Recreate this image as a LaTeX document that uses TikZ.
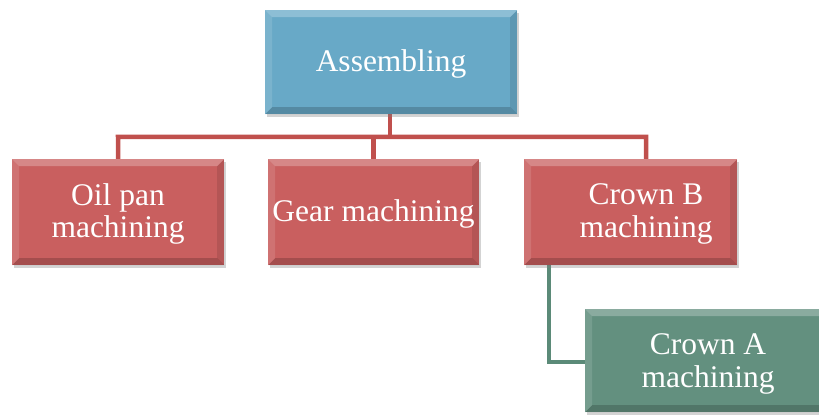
\documentclass[tikz,border=0pt]{standalone}
\usepackage{fontspec}
\setmainfont{Liberation Serif}
\usetikzlibrary{shadows,backgrounds}
\definecolor{bluefill}{HTML}{68A9C7}
\definecolor{redfill}{HTML}{C95F5F}
\definecolor{greenfill}{HTML}{63907F}
\definecolor{redline}{HTML}{C0504D}
\definecolor{greenline}{HTML}{5B8A78}
\tikzset{
  bevel/.style={path picture={
    \fill[white,opacity=0.25] (path picture bounding box.north west) -- (path picture bounding box.north east) -- ([shift={(-7pt,-7pt)}]path picture bounding box.north east) -- ([shift={(7pt,-7pt)}]path picture bounding box.north west) -- cycle;
    \fill[white,opacity=0.12] (path picture bounding box.north west) -- ([shift={(7pt,-7pt)}]path picture bounding box.north west) -- ([shift={(7pt,7pt)}]path picture bounding box.south west) -- (path picture bounding box.south west) -- cycle;
    \fill[black,opacity=0.18] (path picture bounding box.south west) -- (path picture bounding box.south east) -- ([shift={(-7pt,7pt)}]path picture bounding box.south east) -- ([shift={(7pt,7pt)}]path picture bounding box.south west) -- cycle;
    \fill[black,opacity=0.10] (path picture bounding box.north east) -- (path picture bounding box.south east) -- ([shift={(-7pt,7pt)}]path picture bounding box.south east) -- ([shift={(-7pt,-7pt)}]path picture bounding box.north east) -- cycle;
  }},
  box/.style={rectangle, anchor=north west, inner sep=0pt, bevel,
    drop shadow={shadow xshift=2pt, shadow yshift=-3pt, opacity=0.35}},
  lbl/.style={text=white, align=center, inner sep=0pt, font=\fontsize{31.5}{32.5}\selectfont},
  redconn/.style={draw=redline, line width=4.5pt, line join=miter},
  greenconn/.style={draw=greenline, line width=4.5pt, line join=miter},
}
\begin{document}
\begin{tikzpicture}[x=1pt,y=-1pt]
\useasboundingbox (0,0) rectangle (819,417);
\clip (0,0) rectangle (819,417);
\node[box, fill=bluefill, minimum width=252pt, minimum height=104pt] (asm) at (265,10) {};
\node[box, fill=redfill, minimum width=212pt, minimum height=106pt] (oil) at (12,159) {};
\node[box, fill=redfill, minimum width=211pt, minimum height=106pt] (gear) at (268,159) {};
\node[box, fill=redfill, minimum width=213pt, minimum height=106pt] (cb) at (524,159) {};
\node[box, fill=greenfill, minimum width=246pt, minimum height=103pt] (ca) at (585,309) {};
\node[lbl] (asmt) at (391,64) {Assembling};
\node[lbl] (oilt) at (118,214) {Oil pan\\machining};
\node[lbl] (geart) at (373.5,214) {Gear machining};
\node[lbl] (cbt) at (646,214) {Crown B\\machining};
\node[lbl] (cat) at (708,364) {Crown A\\machining};
\coordinate (j) at (390,137);
\coordinate (hl) at (118,137);
\coordinate (hr) at (646,137);
\coordinate (g) at (549,362);
\begin{scope}[on background layer]
\draw[redconn] (j |- asm.south) -- (j);
\draw[redconn] (oil.north) -- (hl) -- (hr) -- (hr |- cb.north);
\draw[redconn] (gear.north) -- (gear.north |- hl);
\draw[greenconn] (g |- cb.south) -- (g) -- (ca.west |- g);
\end{scope}
\end{tikzpicture}
\end{document}
